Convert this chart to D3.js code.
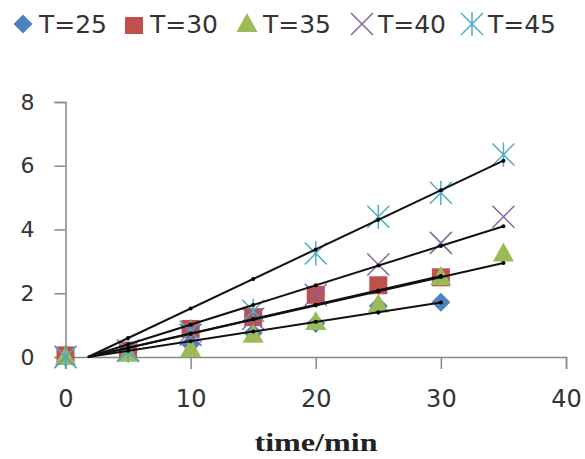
<!DOCTYPE html>
<html><head><meta charset="utf-8">
<script src="https://cdn.jsdelivr.net/npm/d3@7"></script>
<style>body{margin:0;background:#fff}svg{display:block}</style>
</head><body>
<script>
const times = [0,5,10,15,20,25,30,35];
const seriesNames = ["T=25","T=30","T=35","T=40","T=45"];
const T25 = [0,0.15,0.4,0.75,1.05,1.6,1.72];
const T30 = [0.05,0.2,0.88,1.25,1.95,2.25,2.5];
const T35 = [0,0.1,0.25,0.7,1.1,1.65,2.5,3.25];
const T40 = [0,0.2,0.7,1.2,1.95,2.9,3.58,4.4];
const T45 = [0,0.2,0.8,1.45,3.25,4.4,5.15,6.35];
// linear trend lines: slope, intercept
const fitSlope = [0.0606,0.0900,0.0889,0.1235,0.1855];
const fitIntercept = [-0.11,-0.16,-0.16,-0.22,-0.334];
const xTicks = [0,10,20,30,40];
const yTicks = [0,2,4,6,8];
const colors = ["#4F81BD","#C0504D","#9BBB59","#8064A2","#4BACC6"];
const shapes = ["diamond","square","triangle","x","star"];
const allValues = [T25,T30,T35,T40,T45];

const W=585,H=459;
const svg=d3.select("body").append("svg").attr("width",W).attr("height",H);
const x=d3.scaleLinear().domain([0,40]).range([65.5,566]);
const y=d3.scaleLinear().domain([0,8]).range([357,102]);
const FONT="'DejaVu Sans',Verdana,sans-serif";

// axes
const gx=svg.append("g").attr("transform","translate(0,"+y(0)+")")
  .call(d3.axisBottom(x).tickValues(xTicks).tickSize(12).tickPadding(21).tickFormat(d3.format("d")));
const gy=svg.append("g").attr("transform","translate("+x(0)+",0)")
  .call(d3.axisLeft(y).tickValues(yTicks).tickSize(11).tickPadding(20).tickFormat(d3.format("d")));
[gx,gy].forEach(g=>{
  g.select(".domain").attr("stroke","#888").attr("stroke-width",1.5);
  g.selectAll(".tick line").attr("stroke","#888").attr("stroke-width",1.5);
  g.selectAll(".tick text").attr("fill","#333").style("font-family",FONT);
});
gx.selectAll(".tick text").style("font-size","24px");
gy.selectAll(".tick text").style("font-size","22px");

svg.append("text").attr("x",316).attr("y",451).attr("text-anchor","middle")
  .attr("textLength",123).attr("lengthAdjust","spacingAndGlyphs")
  .style("font-family","'Liberation Serif','Times New Roman',serif").style("font-weight","bold").style("font-size","25px")
  .attr("fill","#222").text("time/min");

function diamondPath(cx,cy,r){return `M${cx},${cy-r}L${cx+r},${cy}L${cx},${cy+r}L${cx-r},${cy}Z`;}

function drawMarker(g,shape,color,cx,cy){
  if(shape==="diamond"){
    g.append("path").attr("d",diamondPath(cx,cy,9.5)).attr("fill",color);
  } else if(shape==="square"){
    g.append("rect").attr("x",cx-9).attr("y",cy-9).attr("width",18).attr("height",18).attr("fill",color);
  } else if(shape==="triangle"){
    g.append("path").attr("d",`M${cx},${cy-11}L${cx+10.5},${cy+8}L${cx-10.5},${cy+8}Z`).attr("fill",color);
  } else if(shape==="x"){
    const s=11;
    g.append("path").attr("d",`M${cx-s},${cy-s}L${cx+s},${cy+s}M${cx-s},${cy+s}L${cx+s},${cy-s}`).attr("stroke",color).attr("stroke-width",1.5).attr("fill","none");
  } else {
    const s=11;
    g.append("path").attr("d",`M${cx-s},${cy-s}L${cx+s},${cy+s}M${cx-s},${cy+s}L${cx+s},${cy-s}M${cx},${cy-s*1.1}L${cx},${cy+s*1.1}`).attr("stroke",color).attr("stroke-width",1.5).attr("fill","none");
  }
}

const plot=svg.append("g");
allValues.forEach((vals,i)=>{
  const g=plot.append("g");
  vals.forEach((v,j)=>drawMarker(g,shapes[i],colors[i],x(times[j]),y(v)));
});
// trend lines
allValues.forEach((vals,i)=>{
  const x0=-fitIntercept[i]/fitSlope[i];
  const x1=times[vals.length-1];
  const f=t=>fitSlope[i]*t+fitIntercept[i];
  plot.append("line").attr("x1",x(x0)).attr("y1",y(0)).attr("x2",x(x1)).attr("y2",y(f(x1)))
    .attr("stroke","#111").attr("stroke-width",2);
  times.filter(t=>t>x0&&t<=x1).forEach(t=>{
    plot.append("circle").attr("cx",x(t)).attr("cy",y(f(t))).attr("r",2).attr("fill","#000");
  });
});

// legend
const legX=[23,134,247,362,472];
const lg=svg.append("g");
seriesNames.forEach((n,i)=>{
  const g=lg.append("g");
  if(shapes[i]==="square"){
    g.append("rect").attr("x",legX[i]-9).attr("y",17).attr("width",18).attr("height",17).attr("fill",colors[i]);
  } else {
    drawMarker(g,shapes[i],colors[i],legX[i],24);
  }
  g.append("text").attr("x",legX[i]+16).attr("y",33).attr("fill","#333")
    .style("font-family",FONT).style("font-size","25px").text(n);
});
</script>
</body></html>
